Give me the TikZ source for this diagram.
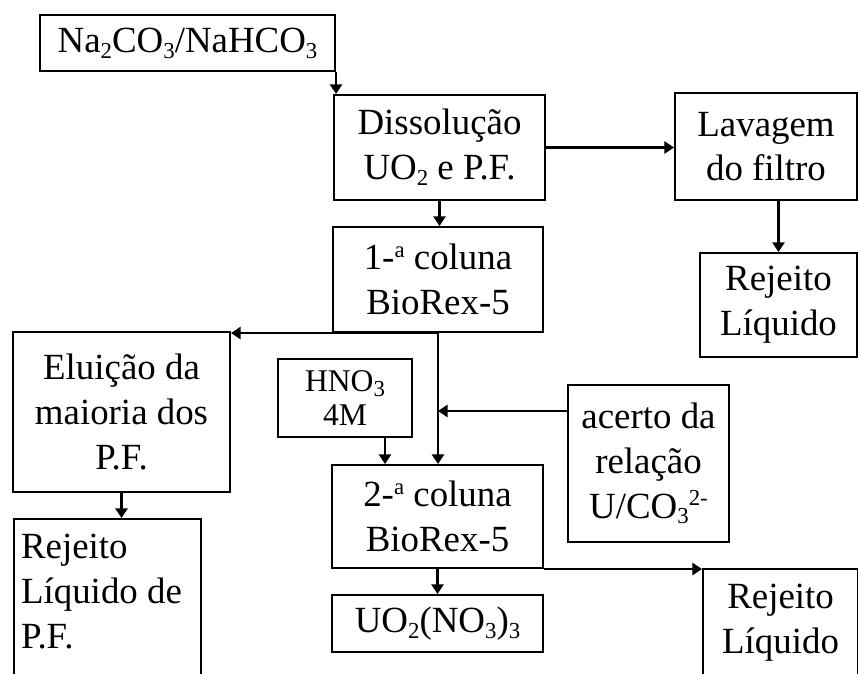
\documentclass[tikz,border=0pt]{standalone}
\usepackage{fontspec}
\setmainfont{Liberation Serif}
\usetikzlibrary{arrows.meta}
\newcommand\chemsub[1]{\raisebox{-0.35ex}{\fontsize{13}{13}\selectfont #1}}
\newcommand\chemsup[1]{\raisebox{0.75ex}{\fontsize{13}{13}\selectfont #1}}
\begin{document}
\begin{tikzpicture}[x=0.02cm,y=-0.02cm,line width=1.2pt,
    box/.style={draw,align=center,inner sep=0pt,font=\fontsize{21}{25.5}\selectfont},
    arr/.style={-{Triangle[length=5.5pt,width=7pt]}}]
    \clip (0,0) rectangle (858,673);
    \node[box,minimum width=5.9cm,minimum height=1.12cm] (na) at (187.5,43) {Na\chemsub{2}CO\chemsub{3}/NaHCO\chemsub{3}};
    \node[box,minimum width=4.22cm,minimum height=2.1cm] (dis) at (439.5,147.5) {Dissolução\\UO\chemsub{2} e P.F.};
    \node[box,minimum width=3.64cm,minimum height=2.14cm] (lav) at (766,146.5) {Lavagem\\do filtro};
    \node[box,minimum width=3.14cm,minimum height=2.08cm] (rej1) at (778.5,305) {Rejeito\\Líquido};
    \node[box,minimum width=4.2cm,minimum height=2.1cm] (c1) at (438,279.5) {1-\chemsup{a} coluna\\BioRex-5};
    \node[box,minimum width=4.34cm,minimum height=3.2cm] (elu) at (121.5,412) {Eluição da\\maioria dos\\P.F.};
    \node[box,anchor=north west,inner xsep=0.14cm,inner ysep=0.3cm] (rejpf) at (13,518) {\parbox[t][3.6cm][t]{3.46cm}{Rejeito\\Líquido de\\P.F.}};
    \node[box,minimum width=2.68cm,minimum height=1.56cm,font=\fontsize{18}{19}\selectfont] (hno) at (345,398) {HNO\chemsub{3}\\4M};
    \node[box,minimum width=4.22cm,minimum height=2.06cm] (c2) at (437.5,516.5) {2-\chemsup{a} coluna\\BioRex-5};
    \node[box,minimum width=4.22cm,minimum height=1.14cm] (uo) at (437.5,623.5) {UO\chemsub{2}(NO\chemsub{3})\chemsub{3}};
    \node[box,minimum width=3.22cm,minimum height=3.14cm] (ace) at (648.5,463.5) {acerto da\\relação\\U/CO\chemsub{3}\chemsup{2-}};
    \node[box,anchor=north west,inner xsep=0pt,inner ysep=0.3cm] (rej2) at (702,568) {\parbox[t][2.4cm][t]{3.1cm}{\centering Rejeito\\Líquido}};
    \draw[arr] (na.south east) -- (na.south east |- dis.north);
    \draw[arr] (dis.east) -- (dis.east -| lav.west);
    \draw[arr] (rej1.north |- lav.south) -- (rej1.north);
    \draw[arr] (dis.south) -- (dis.south |- c1.north);
    \draw[arr] (c1.south) -- (c1.south -| elu.north east);
    \draw[arr] (c1.south) -- (c1.south |- c2.north);
    \draw[arr] (elu.south) -- (elu.south |- rejpf.north);
    \draw[arr] ([xshift=0.8cm]hno.south) -- ([xshift=0.8cm]hno.south |- c2.north);
    \draw[arr] ([yshift=1.05cm]ace.west) -- ([yshift=1.05cm]ace.west -| c1.south);
    \draw[arr] (c2.south) -- (c2.south |- uo.north);
    \draw[arr] (c2.south east) -- (c2.south east -| rej2.north west);
\end{tikzpicture}
\end{document}
